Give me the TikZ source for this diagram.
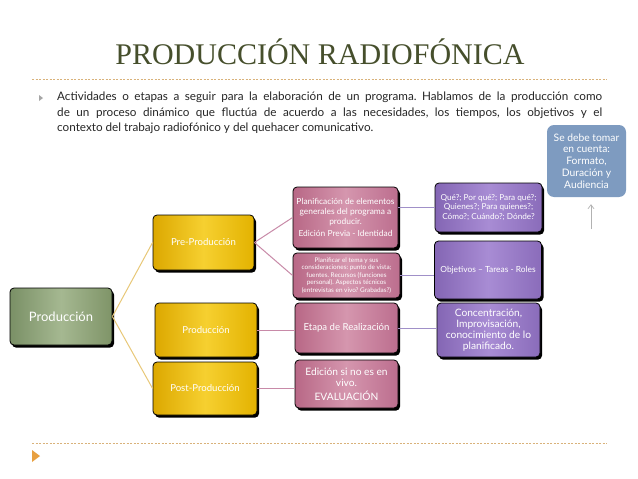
\documentclass[tikz,border=0pt]{standalone}
\usepackage{fontspec}
\setmainfont{Lato}
\newfontfamily\titlefont{Liberation Serif}
\usetikzlibrary{shadows,arrows.meta}
\definecolor{titlecol}{HTML}{464F2C}
\definecolor{dashcol}{HTML}{D9B27A}
\definecolor{callcol}{HTML}{7E9BC0}
\definecolor{ylink}{HTML}{E8C878}
\definecolor{plink}{HTML}{C88AA8}
\definecolor{vlink}{HTML}{A090C8}
\definecolor{gL}{HTML}{7A9066}\definecolor{gR}{HTML}{7F9468}\definecolor{gM}{HTML}{A5B891}
\definecolor{yL}{HTML}{DCA800}\definecolor{yR}{HTML}{E3B200}\definecolor{yM}{HTML}{F6D030}
\definecolor{pL}{HTML}{B86886}\definecolor{pR}{HTML}{BC6E8E}\definecolor{pM}{HTML}{D596AE}
\definecolor{vL}{HTML}{8466B4}\definecolor{vR}{HTML}{8A6CBA}\definecolor{vM}{HTML}{A88CD4}
\definecolor{bulletorange}{HTML}{E8A040}
\tikzset{
  box/.style={rounded corners=4pt, draw=black, line width=0.8pt, text=white,
    align=center, inner sep=2pt,
    drop shadow={shadow xshift=2pt, shadow yshift=-2.6pt, fill=black, opacity=1}},
  greenbox/.style={box, left color=gL, right color=gR, middle color=gM},
  yellowbox/.style={box, left color=yL, right color=yR, middle color=yM},
  pinkbox/.style={box, left color=pL, right color=pR, middle color=pM},
  purplebox/.style={box, left color=vL, right color=vR, middle color=vM},
  ylinkline/.style={draw=ylink, line width=1pt},
  plinkline/.style={draw=plink, line width=1pt},
  vlinkline/.style={draw=vlink, line width=1pt},
}
\frenchspacing
\begin{document}
\begin{tikzpicture}[x=1pt,y=-1pt]
\useasboundingbox (0,0) rectangle (638,479);
\fill[white] (0,0) rectangle (638,479);
% title
\node[text=titlecol, font=\titlefont\fontsize{30}{32}\selectfont, inner sep=0pt] (title) at (320,52) {PRODUCCIÓN RADIOFÓNICA};
\draw[dashcol, dash pattern=on 2pt off 1.5pt, line width=0.6pt] (32,79) -- (607,79);
\draw[dashcol, dash pattern=on 2pt off 1.5pt, line width=0.6pt] (32,443) -- (607,443);
% bullets
\fill[black!35] (39,95) -- (43,98) -- (39,101) -- cycle;
\fill[bulletorange] (32,450) -- (40,456) -- (32,462) -- cycle;
% body text
\node[anchor=north west, inner sep=0pt, text=black!85, font=\fontsize{11.7}{15.5}\selectfont, align=left] (body) at (57,92)
{\makebox[545pt][s]{Actividades o etapas a seguir para la elaboración de un programa. Hablamos de la producción como}\\
 \makebox[545pt][s]{de un proceso dinámico que fluctúa de acuerdo a las necesidades, los tiempos, los objetivos y el}\\
 contexto del trabajo radiofónico y del quehacer comunicativo.};
% callout
\node[rounded corners=7pt, fill=callcol, text=white, align=center, minimum width=79pt, minimum height=72pt, inner sep=1pt,
  font=\fontsize{10.3}{11.8}\selectfont] (callout) at (586.5,161)
  {Se debe tomar\\en cuenta:\\Formato,\\Duración y\\Audiencia};
\coordinate (arrowfoot) at (591,229);
\draw[black!30, line width=0.7pt, -{Straight Barb[length=4pt,width=6pt]}, shorten >=7pt] (arrowfoot) -- (arrowfoot |- callout.south);
% level 1
\node[greenbox, minimum width=102pt, minimum height=57pt, font=\fontsize{13}{15}\selectfont] (prod) at (61,316.5) {Producción};
% level 2
\node[yellowbox, minimum width=101pt, minimum height=55pt, font=\fontsize{9.6}{11}\selectfont] (pre) at (203.5,242.5) {Pre-Producción};
\node[yellowbox, minimum width=102pt, minimum height=54pt, font=\fontsize{9.6}{11}\selectfont] (prod2) at (206,330) {Producción};
\node[yellowbox, minimum width=104pt, minimum height=53pt, font=\fontsize{9.6}{11}\selectfont] (post) at (205,388.5) {Post-Producción};
% level 3
\node[pinkbox, minimum width=105pt, minimum height=61pt, font=\fontsize{8.4}{10}\selectfont] (pa) at (345.5,217.5)
  {Planificación de elementos\\generales del programa a\\producir.\\[2pt]Edición Previa - Identidad};
\node[pinkbox, minimum width=107pt, minimum height=45pt, font=\fontsize{6.4}{7.4}\selectfont] (pb) at (346.5,275.5)
  {Planificar el tema y sus\\consideraciones: punto de vista;\\fuentes. Recursos (funciones\\personal). Aspectos técnicos\\(entrevistas en vivo? Grabadas?)};
\node[pinkbox, minimum width=103pt, minimum height=50pt, font=\fontsize{9.6}{11}\selectfont] (pc) at (346.5,328) {Etapa de Realización};
\node[pinkbox, minimum width=103pt, minimum height=48pt, font=\fontsize{10.2}{11.5}\selectfont] (pd) at (346.5,384)
  {Edición si no es en\\vivo.\\[2pt]EVALUACIÓN};
% level 4
\node[purplebox, minimum width=107pt, minimum height=49pt, font=\fontsize{8.2}{9.4}\selectfont] (qa) at (488.5,207.5)
  {Qué?; Por qué?; Para qué?;\\Quienes?; Para quienes?;\\Cómo?; Cuándo?; Dónde?};
\node[purplebox, minimum width=107pt, minimum height=58pt, font=\fontsize{8.4}{9.4}\selectfont] (qb) at (488,270) {Objetivos – Tareas - Roles};
\node[purplebox, minimum width=103pt, minimum height=54pt, font=\fontsize{10.2}{11.2}\selectfont] (qc) at (488.5,330)
  {Concentración,\\Improvisación,\\conocimiento de lo\\planificado.};
% connectors
\draw[ylinkline] (prod.east) -- (pre.west);
\draw[ylinkline] (prod.east) -- (post.west);
\draw[plinkline] (pre.east) -- (pa.west);
\draw[plinkline] (pre.east) -- (pb.west);
\draw[plinkline] (prod2.east) -- (prod2.east -| pc.west);
\draw[plinkline] (post.east) -- (post.east -| pd.west);
\draw[vlinkline] (pa.east |- qa.west) -- (qa.west);
\draw[vlinkline] (pb.east) -- (pb.east -| qb.west);
\draw[vlinkline] (pc.east) -- (pc.east -| qc.west);
\end{tikzpicture}
\end{document}
